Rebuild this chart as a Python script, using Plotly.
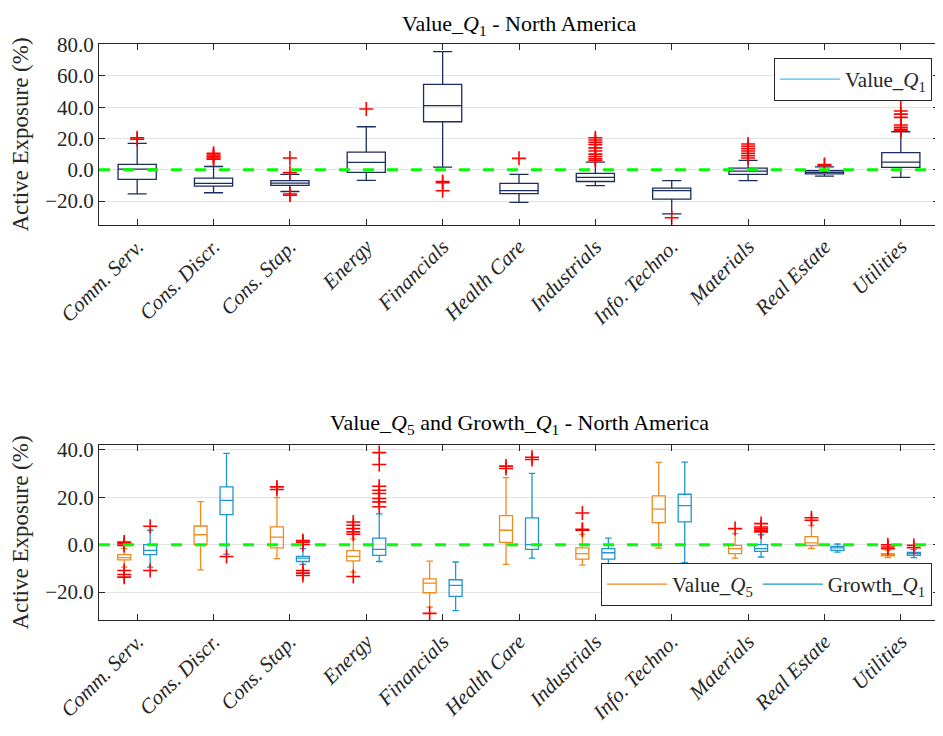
import plotly.graph_objects as go

categories = ["Comm. Serv.", "Cons. Discr.", "Cons. Stap.", "Energy", "Financials",
              "Health Care", "Industrials", "Info. Techno.", "Materials", "Real Estate", "Utilities"]

# ---- Top panel: Value_Q1 ----
v1_q1 = [-6.2, -10.5, -10.0, -1.7, 30.7, -15.2, -7.5, -18.8, -3.0, -2.6, 1.5]
v1_med = [0.4, -8.7, -8.5, 4.7, 41.0, -13.4, -4.9, -13.4, -0.9, -1.7, 4.9]
v1_q3 = [3.4, -5.3, -7.0, 11.3, 54.6, -8.7, -2.3, -11.7, 1.1, -0.6, 10.9]
v1_lo = [-15.4, -14.7, -13.9, -6.8, 1.7, -20.9, -10.2, -28.2, -7.0, -4.1, -4.9]
v1_hi = [16.9, 2.1, -3.0, 27.5, 75.5, -3.0, 4.9, -7.0, 6.0, 1.9, 24.3]
v1_out = [[20.5, 19.5], [10.5, 9.4, 8.5, 7.5, 6.8], [7.5, -1.8, -15.5, -16.3], [38.8],
          [-7.5, -8.3, -13.4], [7.3],
          [20.5, 19.0, 17.5, 16.0, 14.0, 12.0, 10.0, 8.5, 7.0, 6.0], [-30.7],
          [16.5, 15.0, 13.5, 12.0, 10.5, 9.0, 7.5], [3.4, 2.8],
          [46.3, 37.6, 35.6, 33.5, 28.6, 27.1, 25.8, 25.0]]

# ---- Bottom panel: Value_Q5 ----
v5_q1 = [-6.4, 0.0, -1.3, -6.8, -20.3, 1.0, -6.1, 9.3, -3.8, -0.4, -4.7]
v5_med = [-5.5, 4.2, 3.2, -4.9, -16.2, 6.1, -3.8, 15.0, -1.7, 0.8, -4.2]
v5_q3 = [-4.2, 7.9, 7.5, -2.5, -14.4, 12.3, -1.3, 20.6, -0.3, 3.4, -3.8]
v5_lo = [-9.5, -10.6, -5.9, -11.6, -26.4, -8.3, -8.6, -1.4, -5.7, -1.6, -5.5]
v5_hi = [-1.7, 18.2, 19.9, 2.5, -6.9, 28.3, 4.4, 34.8, 4.7, 8.2, -2.4]
v5_out = [[1.1, 0.4, -0.3, -10.9, -12.6, -13.7], [], [24.4, 23.3],
          [9.6, 8.2, 6.8, 5.4, 4.4, -13.4], [-29.0], [33.2, 32.2],
          [13.4, 6.5, 6.1], [], [6.8], [11.4, 10.3], [0.0, -1.0, -1.7]]

# ---- Bottom panel: Growth_Q1 ----
g1_q1 = [-4.2, 12.7, -7.1, -4.5, -21.8, -2.0, -6.1, 9.6, -2.8, -2.4, -4.5]
g1_med = [-2.4, 18.7, -5.7, -2.0, -17.2, 0.0, -3.4, 16.5, -1.7, -1.3, -3.8]
g1_q3 = [0.0, 24.4, -4.9, 2.8, -14.8, 11.3, -1.7, 21.3, 0.0, -0.7, -3.2]
g1_lo = [-9.5, -4.0, -8.3, -7.1, -27.8, -5.7, -8.8, -7.6, -5.2, -3.1, -5.5]
g1_hi = [6.1, 38.6, -1.7, 13.0, -7.3, 30.1, 2.8, 34.9, 4.2, 0.3, -2.1]
g1_out = [[7.8, -10.9], [-5.0], [1.8, 1.1, 0.1, -10.9, -12.0, -13.0],
          [38.9, 33.9, 24.7, 23.0, 21.6, 19.5, 18.1, 16.0], [], [36.9, 36.0],
          [], [], [8.9, 7.5, 6.8, 6.1, 5.4], [], [-0.3, -1.3, -2.2]]

FONT = "Liberation Serif"
NAVY = "#1b2d5e"
ORANGE = "#ef8a1f"
BLUE = "#1f96cf"
LIGHTBLUE = "#4dbeee"
outlier_marker = dict(symbol="cross-thin", size=10, color="red", line=dict(color="red", width=1.6))

fig = go.Figure()


def box(x, q1, med, q3, lo, hi, out, color, xa, ya, **kw):
    return go.Box(x=x, y=out, q1=q1, median=med, q3=q3, lowerfence=lo, upperfence=hi,
                  boxpoints="outliers", jitter=0, pointpos=0, marker=outlier_marker,
                  line=dict(color=color, width=1.3), fillcolor="rgba(0,0,0,0)",
                  whiskerwidth=0.5, showlegend=False, xaxis=xa, yaxis=ya, **kw)


fig.add_trace(box(categories, v1_q1, v1_med, v1_q3, v1_lo, v1_hi, v1_out, NAVY, "x", "y",
                  width=0.5, alignmentgroup="top", offsetgroup="t1"))
fig.add_trace(box(categories, v5_q1, v5_med, v5_q3, v5_lo, v5_hi, v5_out, ORANGE, "x2", "y2",
                  alignmentgroup="bot", offsetgroup="b1"))
fig.add_trace(box(categories, g1_q1, g1_med, g1_q3, g1_lo, g1_hi, g1_out, BLUE, "x2", "y2",
                  alignmentgroup="bot", offsetgroup="b2"))

# legend-only entries (line samples, as in the original)
fig.add_trace(go.Scatter(x=[None], y=[None], mode="lines", line=dict(color=LIGHTBLUE, width=1.3),
                         name="Value_<i>Q</i><sub>1</sub>", legend="legend", xaxis="x", yaxis="y"))
fig.add_trace(go.Scatter(x=[None], y=[None], mode="lines", line=dict(color=ORANGE, width=1.3),
                         name="Value_<i>Q</i><sub>5</sub>", legend="legend2", xaxis="x2", yaxis="y2"))
fig.add_trace(go.Scatter(x=[None], y=[None], mode="lines", line=dict(color=BLUE, width=1.3),
                         name="Growth_<i>Q</i><sub>1</sub>", legend="legend2", xaxis="x2", yaxis="y2"))

# zero reference lines
for xr, yr in [("x", "y"), ("x2", "y2")]:
    fig.add_shape(type="line", xref=f"{xr} domain", yref=yr, x0=0, x1=1, y0=0, y1=0,
                  line=dict(color="#00ff00", width=3, dash="11px,13px"), layer="above")

axis_common = dict(showline=True, linecolor="#262626", linewidth=1, mirror="ticks",
                   ticks="inside", ticklen=6, tickcolor="#262626", zeroline=False,
                   automargin=False)
xcommon = dict(axis_common, type="category", categoryorder="array", categoryarray=categories,
               range=[-0.5, 10.5], tickangle=-45, showgrid=False,
               tickfont=dict(family=FONT, size=21, color="#262626", style="italic"))
ycommon = dict(axis_common, showgrid=True, gridcolor="#e3e3e3", gridwidth=1, dtick=20,
               tickformat=".1f", tickfont=dict(family=FONT, size=21, color="#262626"),
               title=dict(text="Active Exposure (%)", font=dict(family=FONT, size=23, color="#262626"),
                          standoff=10))

fig.update_layout(
    width=935, height=728,
    margin=dict(l=91, r=4, t=36, b=116, autoexpand=False),
    paper_bgcolor="white", plot_bgcolor="white",
    font=dict(family=FONT, color="#262626"),
    boxmode="group", boxgap=0.32, boxgroupgap=0.5,
    xaxis=dict(xcommon, domain=[0, 1], anchor="y"),
    yaxis=dict(ycommon, domain=[0.6858, 1.0], range=[-35.3, 80.4], anchor="x"),
    xaxis2=dict(xcommon, domain=[0, 1], anchor="y2"),
    yaxis2=dict(ycommon, domain=[0, 0.3038], range=[-31.8, 42.1], anchor="x2"),
    legend=dict(x=0.9917, y=0.9757, xanchor="right", yanchor="top", bgcolor="white",
                bordercolor="#262626", borderwidth=1, itemwidth=60,
                font=dict(family=FONT, size=21)),
    legend2=dict(x=0.9917, y=0.0243, xanchor="right", yanchor="bottom", orientation="h",
                 bgcolor="white", bordercolor="#262626", borderwidth=1, itemwidth=60,
                 font=dict(family=FONT, size=21)),
    annotations=[
        dict(text="Value_<i>Q</i><sub>1</sub> - North America", x=0.5, y=1.033, xref="paper",
             yref="paper", xanchor="center", yanchor="middle", showarrow=False,
             font=dict(family=FONT, size=22, color="#000000")),
        dict(text="Value_<i>Q</i><sub>5</sub> and Growth_<i>Q</i><sub>1</sub> - North America",
             x=0.5, y=0.340, xref="paper", yref="paper", xanchor="center", yanchor="middle",
             showarrow=False, font=dict(family=FONT, size=22, color="#000000")),
    ],
)

fig.write_html("out.html")
